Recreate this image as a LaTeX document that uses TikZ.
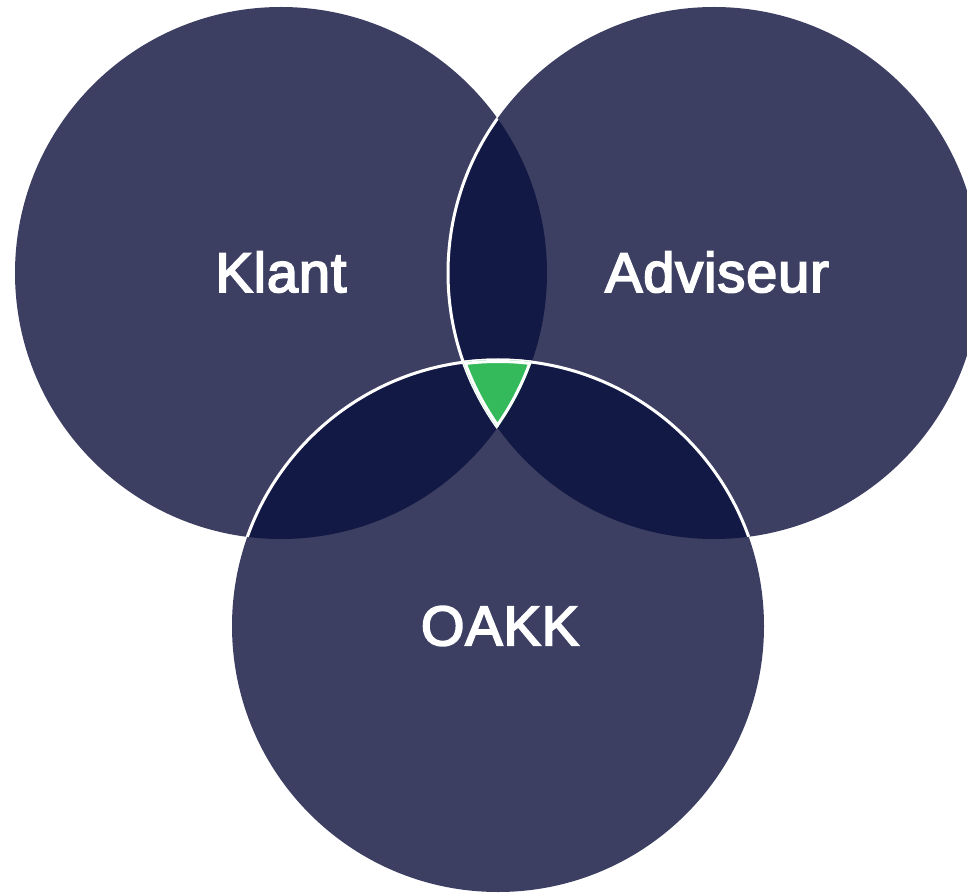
\documentclass[tikz,border=0pt]{standalone}
\usepackage{fontspec}
\newfontfamily\lab[FakeBold=3.2,LetterSpace=1.5]{Liberation Sans}
\definecolor{light}{HTML}{3C3F62}
\definecolor{dark}{HTML}{131945}
\definecolor{grn}{HTML}{34B95B}
\begin{document}
\begin{tikzpicture}[x=1pt,y=-1pt,
  lbl/.style={text=white,inner sep=0pt,font=\lab\fontsize{56}{60}\selectfont},
  sep/.style={draw=white,line width=3pt}]
\useasboundingbox (0,0) rectangle (967,893);
\def\r{266}
\coordinate (K) at (281,273);
\coordinate (A) at (714,273);
\coordinate (O) at (498,626);
% base circles
\fill[light] (K) circle[radius=\r];
\fill[light] (A) circle[radius=\r];
\fill[light] (O) circle[radius=\r];
% pairwise overlaps
\begin{scope}
  \clip (K) circle[radius=\r];
  \fill[dark] (A) circle[radius=\r];
  \fill[dark] (O) circle[radius=\r];
\end{scope}
\begin{scope}
  \clip (A) circle[radius=\r];
  \fill[dark] (O) circle[radius=\r];
\end{scope}
% white separating arcs
\begin{scope}
  \clip (K) circle[radius=\r];
  \draw[sep] (A) circle[radius=\r];
  \draw[sep] (O) circle[radius=\r];
\end{scope}
\begin{scope}
  \clip (A) circle[radius=\r];
  \draw[sep] (O) circle[radius=\r];
\end{scope}
% triple overlap
\begin{scope}
  \clip (K) circle[radius=\r];
  \clip (A) circle[radius=\r];
  \clip (O) circle[radius=\r];
  \fill[grn] (O) circle[radius=\r];
  \draw[draw=white,line width=6pt] (K) circle[radius=\r];
  \draw[draw=white,line width=6pt] (A) circle[radius=\r];
  \draw[draw=white,line width=6pt] (O) circle[radius=\r];
\end{scope}
% labels
\node[lbl] (klant) at (281,272) {Klant};
\node[lbl] (adviseur) at (717,272) {Adviseur};
\node[lbl] (oakk) at (500,626) {OAKK};
\end{tikzpicture}
\end{document}
